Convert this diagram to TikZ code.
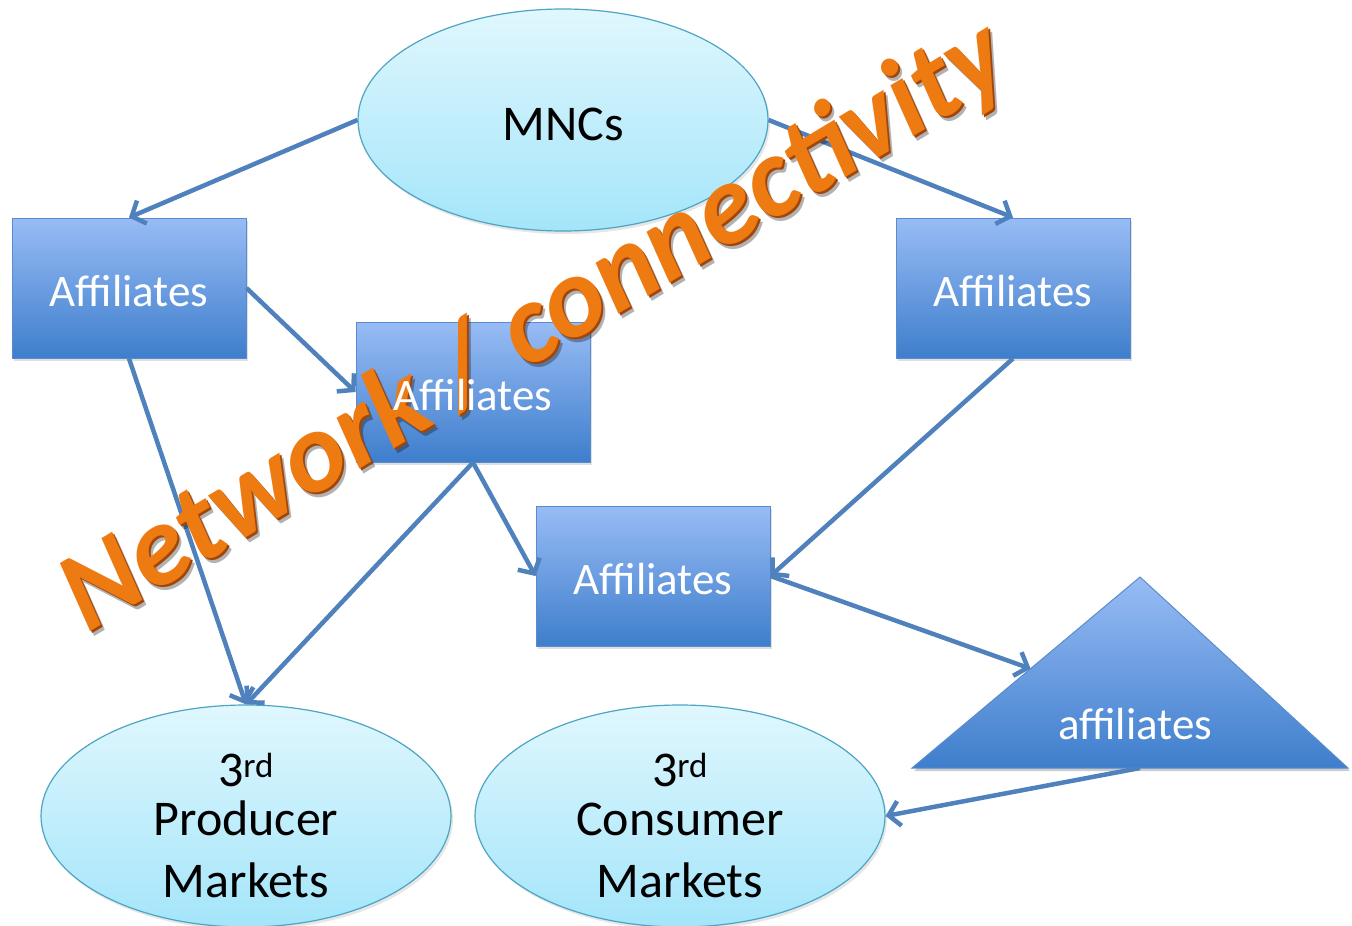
\documentclass[tikz,border=0pt]{standalone}
\usepackage{fontspec}
\setmainfont{Carlito}
\newfontfamily\wafont{Carlito}
\usetikzlibrary{arrows.meta,shadows,shapes.geometric,calc}
\definecolor{boxtop}{RGB}{152,188,245}
\definecolor{boxbot}{RGB}{62,126,204}
\definecolor{boxline}{RGB}{90,140,205}
\definecolor{elltop}{RGB}{224,247,253}
\definecolor{ellbot}{RGB}{164,229,250}
\definecolor{ellline}{RGB}{75,165,195}
\definecolor{arrowc}{RGB}{79,129,189}
\definecolor{waorange}{RGB}{238,122,18}
\definecolor{wadark}{RGB}{160,70,10}
\begin{document}
\begin{tikzpicture}[x=1pt,y=-1pt,
  boxshape/.style={rectangle, draw=boxline, line width=1pt, top color=boxtop, bottom color=boxbot,
    minimum width=234pt, minimum height=140pt, inner sep=0pt,
    drop shadow={shadow xshift=2pt, shadow yshift=-3pt, opacity=0.25}},
  boxtext/.style={text=white, font=\fontsize{45}{54}\selectfont, inner sep=0pt},
  oval/.style={ellipse, draw=ellline, line width=1.2pt, top color=elltop, bottom color=ellbot,
    minimum width=410pt, minimum height=222pt, inner sep=0pt,
    drop shadow={shadow xshift=2pt, shadow yshift=-3pt, opacity=0.2}},
  ovaltext/.style={font=\fontsize{50}{62}\selectfont, align=center, inner sep=0pt},
  arr/.style={draw=arrowc, line width=4.5pt, -{Straight Barb[length=11pt,width=25pt]}},
  watext/.style={rotate=31, font=\wafont\bfseries\itshape\fontsize{114}{120}\selectfont, inner sep=0pt}
]
\useasboundingbox (0,0) rectangle (1352,926);

% ellipses
\node[oval] (mnc) at (563,120) {};
\node[ovaltext] (mnct) at (563,124) {MNCs};
\node[oval] (prod) at (246,816) {};
\node[ovaltext] (prodt) at (246,826) {3\textsuperscript{rd}\\[-13pt]Producer\\Markets};
\node[oval] (cons) at (680,816) {};
\node[ovaltext] (const) at (680,826) {3\textsuperscript{rd}\\[-13pt]Consumer\\Markets};

% boxes
\node[boxshape] (b1) at (129,288) {};
\node[boxtext] (b1t) at (129,291) {Affiliates};
\node[boxshape] (b2) at (473,392) {};
\node[boxshape] (b3) at (1013,288) {};
\node[boxtext] (b3t) at (1013,291) {Affiliates};
\node[boxshape] (b4) at (653,576) {};
\node[boxtext] (b4t) at (653,579) {Affiliates};

% triangle
\coordinate (tA) at (1140,577);
\coordinate (tL) at (912,768);
\coordinate (tR) at (1348,768);
\coordinate (tB) at (1140,768);
\coordinate (tE) at ($(tL)!0.52!(tA)$);
\fill[black, opacity=0.2] ($(tA)+(2,3)$) -- ($(tL)+(2,3)$) -- ($(tR)+(2,3)$) -- cycle;
\shade[top color=boxtop, bottom color=boxbot, draw=boxline, line width=1pt] (tA) -- (tL) -- (tR) -- cycle;
\node[boxtext] (tt) at (1135,724) {affiliates};

% arrows
\draw[arr] (mnc.west) -- (b1.north);
\draw[arr] (mnc.east) -- (b3.north);
\draw[arr] (b1.east) -- (b2.west);
\draw[arr] (b1.south) -- (prod.north);
\draw[arr] (b2.south) -- (prod.north);
\draw[arr] (b2.south) -- (b4.west);
\draw[arr] (b3.south) -- (b4.east);
\draw[arr] (b4.east) -- (tE);
\draw[arr] (tB) -- (cons.east);

% word art
\node[watext, text=black, opacity=0.3] (wash) at (539,333) {Network / connectivity};
\node[watext, text=wadark] (wadk) at (537,330) {Network / connectivity};
\node[watext, text=waorange] (wa) at (535,328) {Network / connectivity};

% middle box label on top
\node[boxtext] (b2t) at (473,395) {Affiliates};
\end{tikzpicture}
\end{document}
